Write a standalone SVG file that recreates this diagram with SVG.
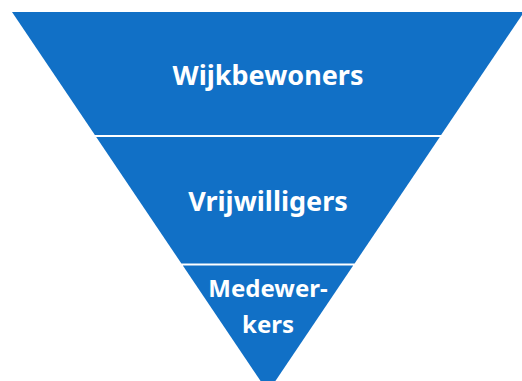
<svg xmlns="http://www.w3.org/2000/svg" width="522" height="381" viewBox="0 0 522 381">
<style>
.layer{fill:#1170c6;}
.lbl{font-family:"Noto Sans","Open Sans","Liberation Sans",sans-serif;font-weight:700;fill:#ffffff;text-anchor:middle;}
</style>
<rect width="522" height="381" fill="#ffffff"/>
<g id="wijkbewoners">
<polygon class="layer" points="12,12 524,12 441.1,135 94.9,135"/>
<text class="lbl" x="268" y="85" font-size="27">Wijkbewoners</text>
</g>
<g id="vrijwilligers">
<polygon class="layer" points="96.2,137 439.8,137 354.6,263.5 181.4,263.5"/>
<text class="lbl" x="268" y="211" font-size="27">Vrijwilligers</text>
</g>
<g id="medewerkers">
<polygon class="layer" points="182.8,265.5 353.2,265.5 268,392"/>
<text class="lbl" x="268" y="297" font-size="24">Medewer-</text>
<text class="lbl" x="268" y="333" font-size="24">kers</text>
</g>
<g id="connectors"></g>
</svg>
